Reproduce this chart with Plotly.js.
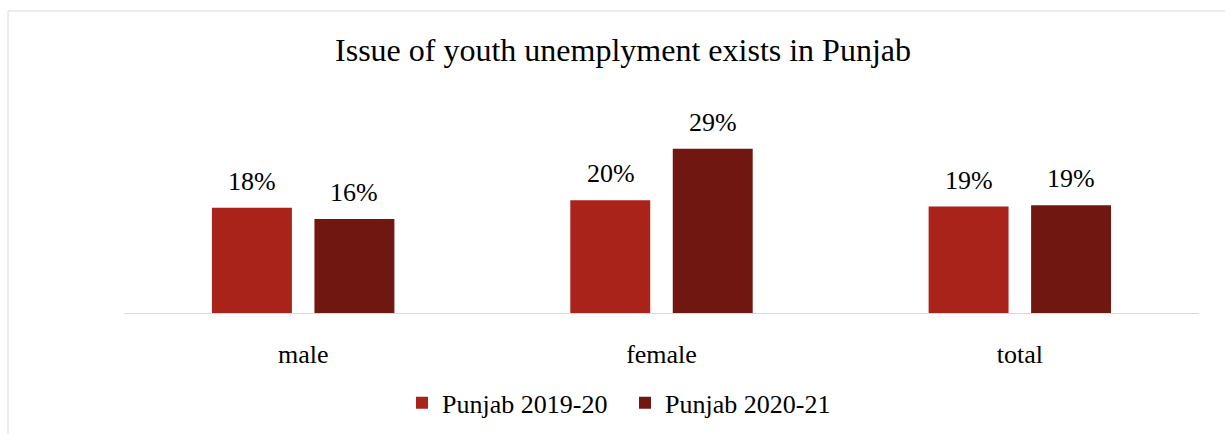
<!DOCTYPE html>
<html>
<head>
<meta charset="utf-8">
<script src="https://cdn.plot.ly/plotly-3.0.1.min.js"></script>
<style>html,body{margin:0;padding:0;background:#fff;}#chart{width:1225px;height:434px;}</style>
</head>
<body>
<div id="chart"></div>
<script>
var categories = ['male', 'female', 'total'];
var seriesNames = ['Punjab 2019-20', 'Punjab 2020-21'];
var values2019 = [18.4, 19.7, 18.6];
var values2020 = [16.4, 28.7, 18.8];
var chartTitle = 'Issue of youth unemplyment exists in Punjab';

var colors = ['#A9231A', '#711711'];
var FONT = 'Liberation Serif, Times New Roman, serif';

var traces = [
  {type: 'bar', name: seriesNames[0], x: categories, y: values2019, marker: {color: colors[0]}, hoverinfo: 'none'},
  {type: 'bar', name: seriesNames[1], x: categories, y: values2020, marker: {color: colors[1]}, hoverinfo: 'none'}
];

var annotations = [];
[values2019, values2020].forEach(function (vals, s) {
  vals.forEach(function (v, i) {
    annotations.push({
      x: categories[i], y: v, xref: 'x', yref: 'y',
      text: Math.round(v) + '%', showarrow: false,
      yanchor: 'bottom', xanchor: 'center',
      xshift: s === 0 ? -51 : 51, yshift: 10,
      font: {family: FONT, size: 26, color: '#000'}
    });
  });
});

var layout = {
  width: 1225, height: 434,
  margin: {l: 124, r: 26, t: 84, b: 121},
  paper_bgcolor: '#fff', plot_bgcolor: '#fff',
  title: {
    text: chartTitle,
    font: {family: FONT, size: 32, color: '#000'},
    x: 0.5086, xanchor: 'center', xref: 'container',
    y: 0.886, yanchor: 'middle', yref: 'container'
  },
  barmode: 'group', bargap: 0.428, bargroupgap: 0.22,
  xaxis: {
    type: 'category', showline: true, linecolor: '#d9d9d9', linewidth: 1,
    ticks: '', showgrid: false, zeroline: false,
    tickfont: {family: FONT, size: 26, color: '#000'},
    ticklabelstandoff: 18
  },
  yaxis: {range: [0, 40], visible: false, showgrid: false, zeroline: false},
  showlegend: true,
  legend: {
    orientation: 'h', x: 0.5102, xanchor: 'center', xref: 'container',
    y: 0.072, yanchor: 'middle', yref: 'container',
    entrywidth: 178, entrywidthmode: 'pixels',
    font: {family: FONT, size: 26, color: '#000'},
    itemclick: false, itemdoubleclick: false
  },
  annotations: annotations,
  shapes: [
    {type: 'line', xref: 'paper', yref: 'paper', x0: -0.1079, x1: 1.03, y0: 1.3188, y1: 1.3188, line: {color: '#d9d9d9', width: 1}},
    {type: 'line', xref: 'paper', yref: 'paper', x0: -0.1079, x1: -0.1079, y0: 1.3188, y1: -0.6, line: {color: '#d9d9d9', width: 1}}
  ]
};

Plotly.newPlot('chart', traces, layout, {displayModeBar: false, staticPlot: true});
</script>
</body>
</html>
